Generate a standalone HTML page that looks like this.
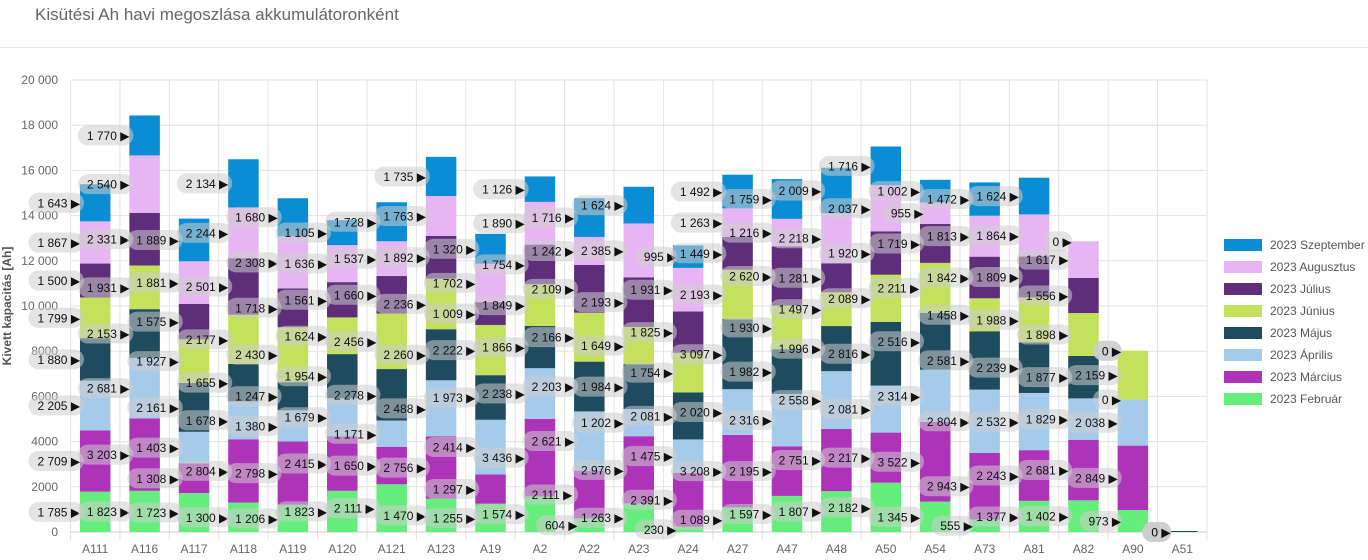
<!DOCTYPE html>
<html><head><meta charset="utf-8">
<style>
html,body{margin:0;padding:0;background:#fff;width:1368px;height:560px;overflow:hidden;font-family:"Liberation Sans",sans-serif;}
#t{position:absolute;left:35px;top:5px;font-size:17px;color:#666;}
#sep{position:absolute;left:0;top:47px;width:1368px;height:1px;background:#e6e6e6;}
svg{position:absolute;left:0;top:0;}
</style></head><body>
<div id="t">Kisütési Ah havi megoszlása akkumulátoronként</div>
<div id="sep"></div>
<svg id="c" width="1368" height="560" xmlns="http://www.w3.org/2000/svg"></svg>
<script>
const cats=["A111","A116","A117","A118","A119","A120","A121","A123","A19","A2","A22","A23","A24","A27","A47","A48","A50","A54","A73","A81","A82","A90","A51"];
const D=[
[1785,2709,2205,1880,1799,1500,1867,1643],
[1823,3203,2681,2153,1931,2331,2540,1770],
[1723,1308,1403,2161,1927,1575,1881,1889],
[1300,2804,1678,1655,2177,2501,2244,2134],
[1206,2798,1380,1247,2430,1718,2308,1680],
[1823,2415,1679,1954,1624,1561,1636,1105],
[2111,1650,1171,2278,2456,1660,1537,1728],
[1470,2756,2488,2260,2236,1892,1763,1735],
[1255,1297,2414,1973,2222,1009,1702,1320],
[1574,3436,2238,1866,1849,1754,1890,1126],
[604,2111,2621,2203,2166,2109,1242,1716],
[1263,2976,1202,1984,1649,2193,2385,1624],
[230,2391,1475,2081,1754,1825,1931,995],
[1089,3208,2020,3097,2193,1449,1263,1492],
[1597,2195,2316,1982,1930,2620,1216,1759],
[1807,2751,2558,1996,1497,1281,2218,2009],
[2182,2217,2081,2816,2089,1920,2037,1716],
[1345,3522,2314,2516,2211,1719,955,1002],
[555,2943,2804,2581,1458,1842,1813,1472],
[1377,2243,2532,2239,1988,1809,1864,1624],
[1402,2681,1829,1877,1898,1556,1617,0],
[973,2849,2038,0,2159,0,0,0],
[0,0,0,0,0,0,0,0]];
const cols=["#66ee7c","#ad33b9","#a6cbea","#1e4b5d","#c3e15b","#5e2e7b","#e8b5f4","#0b8dd5"];
const names=["2023 Február","2023 Március","2023 Április","2023 Május","2023 Június","2023 Július","2023 Augusztus","2023 Szeptember"];
const L=70.5,R=1207,T=80,B=532,cw=(R-L)/23,bw=30.5;
const Y=v=>B-(v/20000)*(B-T);
let s="";
for(let v=0;v<=20000;v+=2000){const y=Y(v);s+=`<line x1="${L}" x2="${R}" y1="${y}" y2="${y}" stroke="#e3e3e3"/>`;
let t=v>=10000?(Math.floor(v/1000)+" 000"):String(v);
s+=`<text x="58" y="${y+4}" text-anchor="end" font-size="12" fill="#666">${t}</text>`;}
for(let i=0;i<=23;i++){const x=L+i*cw;s+=`<line x1="${x}" x2="${x}" y1="${T}" y2="${B+8}" stroke="#e3e3e3"/>`;}
s+=`<line x1="${L}" x2="${R}" y1="${B}" y2="${B}" stroke="#ccc"/>`;
let lab="";
cats.forEach((c,i)=>{const cx=L+(i+0.5)*cw,x0=cx-bw/2;let cum=0;
s+=`<text x="${cx}" y="553" text-anchor="middle" font-size="12" fill="#666">${c}</text>`;
D[i].forEach((v,k)=>{const y1=Y(cum+v),y0=Y(cum);
if(v>0)s+=`<rect x="${x0}" y="${y1}" width="${bw}" height="${y0-y1}" fill="${cols[k]}"/>`;
else if(i==22&&k==0)s+=`<rect x="${x0}" y="${B-1}" width="${bw}" height="1" fill="#1e4b5d"/>`;
const ym=(y0+y1)/2;const txt=v>=1000?(Math.floor(v/1000)+" "+String(v%1000).padStart(3,"0")):String(v);
const w=txt.length*6.7+22;const xr=x0+4;
lab+=`<rect x="${xr-w}" y="${ym-10}" width="${w}" height="20" rx="10" fill="rgba(205,205,205,0.55)"/>`;
lab+=`<text x="${xr-w+9}" y="${ym+4.5}" font-size="12" fill="#111">${txt} ▶</text>`;
cum+=v;});});
s+=lab;
for(let k=7;k>=0;k--){const y=245+(7-k)*22;
s+=`<rect x="1224" y="${y-6}" width="38" height="12" fill="${cols[k]}"/><text x="1270" y="${y+4}" font-size="12" fill="#555">${names[k]}</text>`;}
s+=`<text transform="translate(11,306) rotate(-90)" text-anchor="middle" font-size="12" font-weight="bold" fill="#555">Kivett kapacitás [Ah]</text>`;
document.getElementById("c").innerHTML=s;
</script>
</body></html>
